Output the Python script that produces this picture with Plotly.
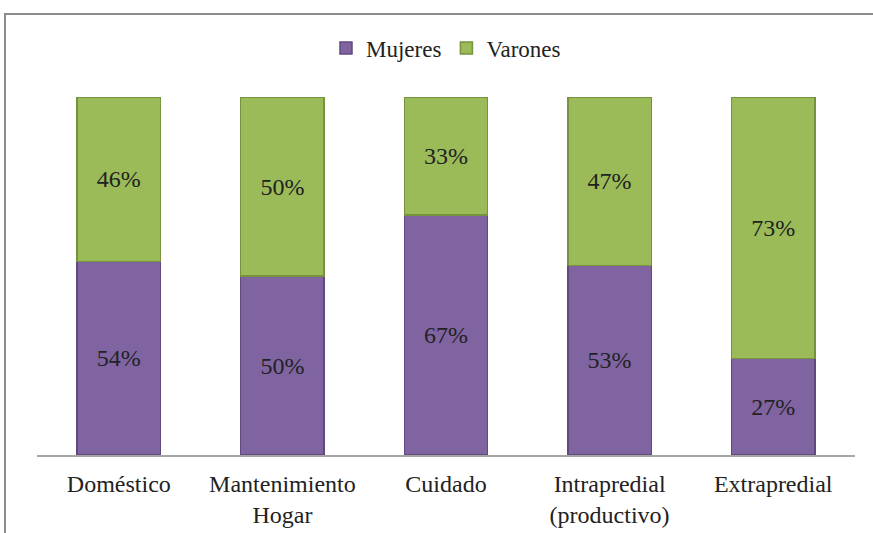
import plotly.graph_objects as go

categories = ["Doméstico", "Mantenimiento<br>Hogar", "Cuidado", "Intrapredial<br>(productivo)", "Extrapredial"]
mujeres = [54, 50, 67, 53, 27]
varones = [46, 50, 33, 47, 73]

FONT = "Liberation Serif"

fig = go.Figure()
fig.add_trace(go.Bar(
    x=categories, y=[v / 100 for v in mujeres], name="Mujeres",
    marker=dict(color="#8064A2", line=dict(color="#5f4a7c", width=1.5)),
    text=[f"{v}%" for v in mujeres], textposition="inside", insidetextanchor="middle",
    textfont=dict(family=FONT, size=24, color="#222"),
))
fig.add_trace(go.Bar(
    x=categories, y=[v / 100 for v in varones], name="Varones",
    marker=dict(color="#9BBB59", line=dict(color="#76923c", width=1.5)),
    text=[f"{v}%" for v in varones], textposition="inside", insidetextanchor="middle",
    textfont=dict(family=FONT, size=24, color="#222"),
))

fig.update_layout(
    barmode="stack",
    bargap=0.49,
    width=873, height=533,
    margin=dict(l=37, r=18, t=97, b=78, autoexpand=False),
    paper_bgcolor="white", plot_bgcolor="white",
    font=dict(family=FONT, size=24, color="#222"),
    showlegend=True,
    legend=dict(orientation="h", x=0.5, xanchor="center", y=1.137, yanchor="middle",
                font=dict(family=FONT, size=23, color="#222"), traceorder="normal",
                itemwidth=30),
    xaxis=dict(showline=True, linecolor="#a6a6a6", linewidth=1.5, ticks="",
               tickfont=dict(family=FONT, size=24, color="#222"), ticklabelstandoff=6,
               showgrid=False, automargin=False),
    yaxis=dict(range=[0, 1], visible=False, showgrid=False, automargin=False),
    shapes=[dict(type="rect", xref="paper", yref="paper",
                 x0=(5 - 37) / 818, x1=1.2, y0=-0.5, y1=(455 - 14) / 358,
                 line=dict(color="#8c8c8c", width=2), fillcolor="rgba(0,0,0,0)", layer="below")],
)

fig.write_html("out.html", config={"displayModeBar": False},
               post_script="document.body.style.margin='0';document.body.style.overflow='hidden';")
